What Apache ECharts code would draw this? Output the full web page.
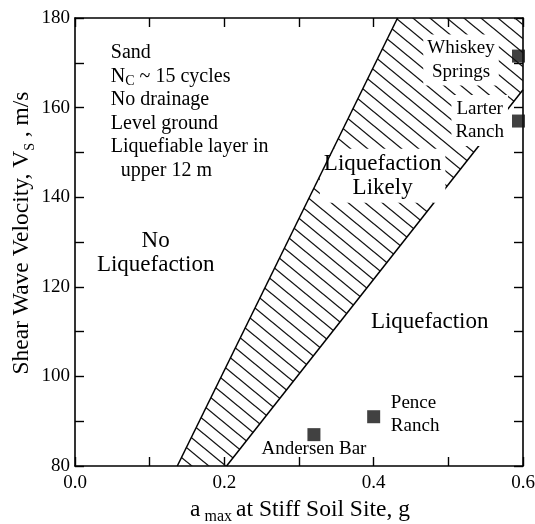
<!DOCTYPE html>
<html><head><meta charset="utf-8">
<script src="https://cdn.jsdelivr.net/npm/echarts@6/dist/echarts.min.js"></script>
<style>html,body{margin:0;padding:0;background:#fff}#c{width:535px;height:524px}</style>
</head><body><div id="c"></div>
<script>
// ---- data ----
const xTickLabels = ['0.0', '0.2', '0.4', '0.6'];
const yTickLabels = ['80', '100', '120', '140', '160', '180'];
const bandLeftEdge = [[0.137, 80], [0.432, 180]];
const bandRightEdge = [[0.203, 80], [0.6, 164]];
const siteNames = ['Andersen Bar', 'Pence Ranch', 'Whiskey Springs', 'Larter Ranch'];
const siteAmax = [0.32, 0.40, 0.594, 0.594];
const siteVs = [87, 91, 171.5, 157];
const regionTexts = ['No\nLiquefaction', 'Liquefaction\nLikely', 'Liquefaction'];
const regionAmax = [0.108, 0.412, 0.475];
const regionVs = [127.5, 144.8, 112.1];
const regionWhiteBg = [false, true, false];
const siteLabelTexts = ['Andersen Bar', 'Pence\nRanch', 'Whiskey\nSprings', 'Larter\nRanch'];
const siteLabelAmax = [0.320, 0.423, 0.517, 0.542];
const siteLabelVs = [83.8, 91.5, 170.6, 157.1];
const siteLabelAlign = ['center', 'left', 'center', 'center'];
const siteLabelWhiteBg = [false, false, true, true];
const noteLines = ['Sand', '{n|N}{c|C} ~ 15 cycles', 'No drainage', 'Level ground', 'Liquefiable layer in', '  upper 12 m'];
const noteAnchor = [0.048, 174.8];

const X_MIN = 0, X_MAX = 0.6, Y_MIN = 80, Y_MAX = 180;
const FONT = 'Liberation Serif';

function makeHatch() {
  const W = 17, H = 14;
  const c = document.createElement('canvas');
  c.width = W; c.height = H;
  const g = c.getContext('2d');
  g.strokeStyle = '#111';
  g.lineWidth = 1.3;
  for (let k = -1; k <= 1; k++) {
    g.beginPath();
    g.moveTo(-W, -H + k * H);
    g.lineTo(2 * W, 2 * H + k * H);
    g.stroke();
  }
  return c;
}
const hatchCanvas = makeHatch();
const bandPolygon = [bandLeftEdge[0], bandRightEdge[0], bandRightEdge[1], [X_MAX, Y_MAX], bandLeftEdge[1]];

const chart = echarts.init(document.getElementById('c'), null, {renderer: 'canvas'});

const axisLineStyle = {show: true, onZero: false, lineStyle: {color: '#000', width: 1.6}};
const axisTickStyle = {show: true, inside: true, length: 9, lineStyle: {color: '#000', width: 1.4}};

function fmtX(v) {
  const s = (Math.round(v * 10) / 10).toFixed(1);
  return xTickLabels.indexOf(s) >= 0 ? s : '';
}
function fmtY(v) {
  const s = String(Math.round(v));
  return yTickLabels.indexOf(s) >= 0 ? s : '';
}

const option = {
  backgroundColor: '#fff',
  animation: false,
  grid: {left: 75, right: 12, top: 18, bottom: 58, containLabel: false, outerBoundsMode: 'none'},
  xAxis: [
    {type: 'value', min: X_MIN, max: X_MAX, interval: 0.1, position: 'bottom',
     axisLine: axisLineStyle, axisTick: axisTickStyle, splitLine: {show: false},
     axisLabel: {margin: 8, fontFamily: FONT, fontSize: 19, color: '#000', formatter: fmtX, showMinLabel: true, showMaxLabel: true}},
    {type: 'value', min: X_MIN, max: X_MAX, interval: 0.1, position: 'top',
     axisLine: axisLineStyle, axisTick: axisTickStyle, splitLine: {show: false},
     axisLabel: {show: false}}
  ],
  yAxis: [
    {type: 'value', min: Y_MIN, max: Y_MAX, interval: 10, position: 'left',
     axisLine: axisLineStyle, axisTick: axisTickStyle, splitLine: {show: false},
     axisLabel: {margin: 5, fontFamily: FONT, fontSize: 19, color: '#000', formatter: fmtY, showMinLabel: true, showMaxLabel: true}},
    {type: 'value', min: Y_MIN, max: Y_MAX, interval: 10, position: 'right',
     axisLine: axisLineStyle, axisTick: axisTickStyle, splitLine: {show: false},
     axisLabel: {show: false}}
  ],
  graphic: [
    {type: 'text', x: 22, y: 233, rotation: Math.PI / 2, z: 10,
     style: {text: '{t|Shear Wave Velocity, V}{s|S}{t| , m/s}', align: 'center', verticalAlign: 'middle',
       rich: {t: {fontFamily: FONT, fontSize: 23.5, lineHeight: 30, fill: '#000'},
              s: {fontFamily: FONT, fontSize: 14, lineHeight: 14, verticalAlign: 'bottom', fill: '#000'}}}},
    {type: 'text', x: 300, y: 510, z: 10,
     style: {text: '{t|a}{s| max }{t|at Stiff Soil Site, g}', align: 'center', verticalAlign: 'middle',
       rich: {t: {fontFamily: FONT, fontSize: 23.5, lineHeight: 30, fill: '#000'},
              s: {fontFamily: FONT, fontSize: 16, lineHeight: 14, verticalAlign: 'bottom', fill: '#000'}}}}
  ],
  series: [
    {type: 'custom', name: 'Liquefaction Likely band', silent: true, z: 1,
     data: [[0.3, 130]],
     renderItem: function (params, api) {
       const pts = bandPolygon.map(p => api.coord(p));
       return {type: 'polygon', shape: {points: pts},
               style: {fill: {image: hatchCanvas, repeat: 'repeat'}, stroke: null}};
     }},
    {type: 'line', name: 'left boundary', data: bandLeftEdge, symbol: 'none', silent: true, z: 4,
     lineStyle: {color: '#000', width: 1.5}},
    {type: 'line', name: 'right boundary', data: bandRightEdge, symbol: 'none', silent: true, z: 2,
     lineStyle: {color: '#000', width: 1.5}},
    {type: 'custom', name: 'region labels', silent: true, z: 3,
     data: regionTexts.map((t, i) => [regionAmax[i], regionVs[i], i]),
     renderItem: function (params, api) {
       const i = api.value(2);
       const p = api.coord([api.value(0), api.value(1)]);
       return {type: 'text', x: p[0], y: p[1],
               style: {text: regionTexts[i], fontFamily: FONT, fontSize: 23, lineHeight: 24, fill: '#000',
                       align: 'center', verticalAlign: 'middle',
                       backgroundColor: regionWhiteBg[i] ? '#fff' : null, padding: regionWhiteBg[i] ? [3, 4] : 0}};
     }},
    {type: 'custom', name: 'site labels', silent: true, z: 3,
     data: siteLabelTexts.map((t, i) => [siteLabelAmax[i], siteLabelVs[i], i]),
     renderItem: function (params, api) {
       const i = api.value(2);
       const p = api.coord([api.value(0), api.value(1)]);
       return {type: 'text', x: p[0], y: p[1],
               style: {text: siteLabelTexts[i], fontFamily: FONT, fontSize: 19, lineHeight: 23.5, fill: '#000',
                       align: siteLabelAlign[i], verticalAlign: 'middle',
                       backgroundColor: siteLabelWhiteBg[i] ? '#fff' : null, padding: siteLabelWhiteBg[i] ? [2, 4] : 0}};
     }},
    {type: 'custom', name: 'conditions', silent: true, z: 3,
     data: [noteAnchor],
     renderItem: function (params, api) {
       const p = api.coord([api.value(0), api.value(1)]);
       return {type: 'text', x: p[0], y: p[1],
               style: {text: noteLines.join('\n'), fontFamily: FONT, fontSize: 20, lineHeight: 23.5, fill: '#000',
                       align: 'left', verticalAlign: 'top',
                       rich: {n: {fontFamily: FONT, fontSize: 20, lineHeight: 23.5, fill: '#000'},
                              c: {fontFamily: FONT, fontSize: 14, lineHeight: 14, verticalAlign: 'bottom', fill: '#000'}}}};
     }},
    {type: 'scatter', name: 'Sites', symbol: 'rect', symbolSize: 13, z: 5, clip: false,
     itemStyle: {color: '#111'},
     data: siteNames.map((n, i) => ({name: n, value: [siteAmax[i], siteVs[i]]}))}
  ]
};
chart.setOption(option);
</script>
</body></html>
